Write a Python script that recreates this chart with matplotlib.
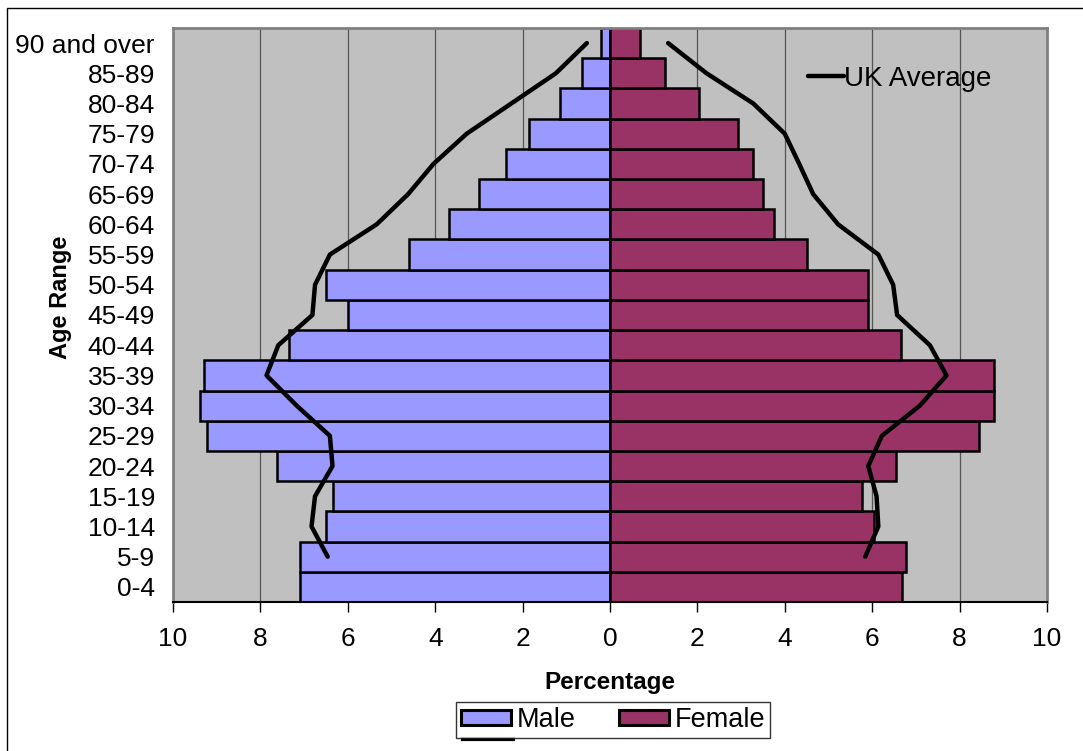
import numpy as np
import matplotlib
matplotlib.use("Agg")
from matplotlib import pyplot as plt
from matplotlib.lines import Line2D
from matplotlib.patches import Rectangle

plt.rcParams['font.family'] = ['Liberation Sans', 'DejaVu Sans']

ages = ["0-4", "5-9", "10-14", "15-19", "20-24", "25-29", "30-34", "35-39",
        "40-44", "45-49", "50-54", "55-59", "60-64", "65-69", "70-74",
        "75-79", "80-84", "85-89", "90 and over"]
male = [7.1, 7.09, 6.5, 6.33, 7.61, 9.22, 9.39, 9.3, 7.34, 6.0, 6.51,
        4.61, 3.68, 3.0, 2.39, 1.85, 1.14, 0.63, 0.21]
female = [6.68, 6.77, 6.03, 5.77, 6.55, 8.44, 8.78, 8.78, 6.65, 5.9, 5.9,
          4.5, 3.75, 3.49, 3.28, 2.92, 2.04, 1.27, 0.69]
# UK average, from 5-9 upwards
uk_male = [6.46, 6.83, 6.75, 6.35, 6.41, 7.17, 7.86, 7.59, 6.81, 6.75,
           6.41, 5.34, 4.62, 4.04, 3.28, 2.26, 1.24, 0.53]
uk_female = [5.84, 6.14, 6.10, 5.91, 6.22, 7.09, 7.70, 7.32, 6.57, 6.48,
             6.14, 5.22, 4.65, 4.33, 4.0, 3.28, 2.21, 1.33]
xticks = [-10, -8, -6, -4, -2, 0, 2, 4, 6, 8, 10]

fig = plt.figure(figsize=(10.83, 7.51), dpi=100)
ax = fig.add_axes([173/1083, 1-602/751, (1047-173)/1083, (602-28)/751])
ax.set_facecolor('#C0C0C0')

y = np.arange(len(ages))
ax.barh(y, -np.array(male), height=1.0, color='#9999FF', edgecolor='black',
        linewidth=1.8, label='Male', zorder=2)
ax.barh(y, female, height=1.0, color='#993366', edgecolor='black',
        linewidth=1.8, label='Female', zorder=2)
uk_line, = ax.plot(-np.array(uk_male), y[1:], color='black', lw=3.2,
                   solid_capstyle='round', zorder=3)
ax.plot(uk_female, y[1:], color='black', lw=3.2, solid_capstyle='round', zorder=3)

ax.set_xlim(-10, 10)
ax.set_ylim(-0.5, len(ages) - 0.5)
ax.set_xticks(xticks)
ax.set_xticklabels([str(abs(t)) for t in xticks], fontsize=19)
ax.set_yticks(y)
ax.set_yticklabels(ages, fontsize=19)
ax.tick_params(axis='y', length=0, pad=13)
ax.tick_params(axis='x', direction='out', length=7, width=1, pad=11)
ax.grid(axis='x', color='#555555', lw=0.9, zorder=1)
ax.set_axisbelow(True)
for s in ['left', 'right', 'top']:
    ax.spines[s].set_color('#808080')
    ax.spines[s].set_linewidth(2)
ax.spines['bottom'].set_color('black')
ax.spines['bottom'].set_linewidth(1.5)

fig.text(610/1083, 1-683/751, 'Percentage', fontsize=17.5, fontweight='bold',
         ha='center', va='center')
fig.text(60/1083, 1-297/751, 'Age Range', fontsize=17, fontweight='bold',
         rotation=90, ha='center', va='center')

handles, labels = ax.get_legend_handles_labels()
leg = fig.legend(handles[:2], labels[:2], loc='center',
                 bbox_to_anchor=(613/1083, 1-720/751), ncol=2,
                 fontsize=19.5, frameon=True, fancybox=False, edgecolor='black',
                 handlelength=1.85, handleheight=0.5, handletextpad=0.2,
                 columnspacing=1.6, borderpad=0.2, borderaxespad=0)
leg.get_frame().set_linewidth(1)
for p in leg.get_patches():
    p.set_linewidth(2.2)
# clipped third legend entry
fig.add_artist(Line2D([463/1083, 513/1083], [1-739/751, 1-739/751],
                      color='black', lw=3))

ax.legend([uk_line], ['UK Average'], loc='center left',
          bbox_to_anchor=(0.711, 0.911), frameon=False, fontsize=20,
          handlelength=1.3, handletextpad=0.0, borderpad=0)

fig.add_artist(Rectangle((7/1083, -0.1), 1.2, 1 - 8/751 + 0.1,
                         transform=fig.transFigure, fill=False,
                         edgecolor='black', lw=1))

fig.savefig('out.png', dpi=100)
